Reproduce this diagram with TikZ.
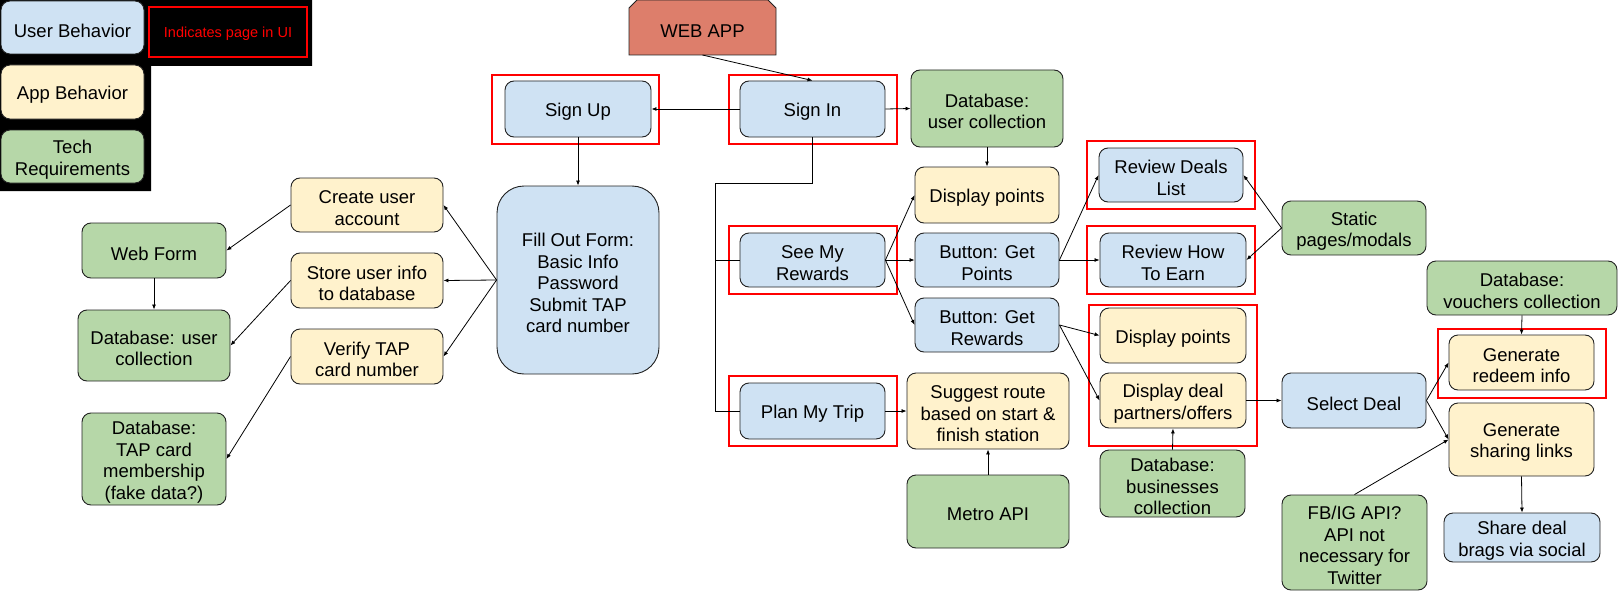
\documentclass[tikz,border=0pt]{standalone}
\usepackage{fontspec}
\setmainfont{Liberation Sans}
\usetikzlibrary{arrows.meta}
\definecolor{ubc}{HTML}{CFE2F3}
\definecolor{abc}{HTML}{FFF2CC}
\definecolor{trc}{HTML}{B6D7A8}
\definecolor{wac}{HTML}{DD7E6B}
\definecolor{bordc}{HTML}{222222}
\newcommand\bx[6]{%
  \node[#1,minimum width=#4pt,minimum height=#5pt] (#2) at (#3) {};
  \node[txt] (#2t) at ([yshift=-3pt]#2.center) {#6};}
\begin{document}
\begin{tikzpicture}[x=1pt,y=-1pt,
  base/.style={draw=bordc,line width=0.9pt,rounded corners=9pt,inner sep=0pt},
  txt/.style={align=center,inner sep=0pt,font=\fontsize{18.5}{21.5}\selectfont},
  ub/.style={base,fill=ubc},
  ab/.style={base,fill=abc},
  tr/.style={base,fill=trc},
  pagebox/.style={draw=red,line width=1.7pt},
  conn/.style={line width=0.8pt,black},
  arr/.style={conn,-{Latex[length=5pt,width=4pt]}}
]
\useasboundingbox (0,0) rectangle (1623,594);
% legend
\fill[black] (0,0) -- (312,0) -- (312,66) -- (151,66) -- (151,191) -- (0,191) -- cycle;
\bx{ub}{legUB}{72.5,27.5}{143}{53}{User Behavior}
\bx{ab}{legAB}{72.5,92}{143}{54}{App Behavior}
\bx{tr}{legTR}{72.5,156.5}{143}{53}{Tech\\Requirements}
\node[draw=red,line width=1.7pt,minimum width=158pt,minimum height=50pt,inner sep=0pt] (legRed) at (228,32) {};
\node[text=red,font=\fontsize{14.5}{17}\selectfont,inner sep=0pt] (legRedt) at ([yshift=-2pt]legRed.center) {Indicates page in UI};
% web app
\draw[draw=bordc,line width=0.9pt,fill=wac] (629,55) -- (629,8) -- (637,0) -- (768,0) -- (776,8) -- (776,55) -- cycle;
\node[txt] (webapp) at (702.5,31) {WEB APP};
\coordinate (webappS) at (702.5,55);
% main nodes
\bx{ub}{signup}{578,109}{146}{56}{Sign Up}
\bx{ub}{signin}{812.5,109}{145}{56}{Sign In}
\bx{tr}{dbuser}{987,108.5}{152}{77}{Database:\\user collection}
\bx{ab}{disp1}{987,195}{144}{56}{Display points}
\bx{ub}{seemy}{812.5,260}{145}{54}{See My\\Rewards}
\bx{ub}{getpts}{987,260}{144}{54}{Button: Get\\Points}
\bx{ub}{getrew}{987,325}{144}{54}{Button: Get\\Rewards}
\bx{ub}{revdeals}{1171,175}{144}{54}{Review Deals\\List}
\bx{ub}{revearn}{1173,260}{146}{54}{Review How\\To Earn}
\bx{ab}{disp2}{1173,335.5}{146}{55}{Display points}
\bx{ab}{dispdeal}{1173,400.5}{146}{55}{Display deal\\partners/offers}
\bx{ub}{planmy}{812.5,411}{145}{56}{Plan My Trip}
\bx{ab}{suggest}{988,411}{162}{76}{Suggest route\\based on start \&\\finish station}
\bx{tr}{metro}{988,511.5}{162}{73}{Metro API}
\bx{tr}{dbbiz}{1172.5,483.5}{145}{67}{Database:\\businesses\\collection}
\bx{tr}{static}{1354,228}{144}{54}{Static\\pages/modals}
\bx{ub}{selectdeal}{1354,400.5}{144}{55}{Select Deal}
\bx{tr}{dbvouch}{1522,288}{190}{54}{Database:\\vouchers collection}
\bx{ab}{redeem}{1521.5,362.5}{145}{55}{Generate\\redeem info}
\bx{ab}{sharing}{1521.5,439.5}{145}{73}{Generate\\sharing links}
\bx{tr}{fbig}{1354.5,542.5}{145}{95}{FB/IG API?\\API not\\necessary for\\Twitter}
\bx{ub}{share}{1522,537.5}{156}{49}{Share deal\\brags via social}
\bx{ub,rounded corners=27pt}{fillform}{578,280}{162}{188}{Fill Out Form:\\Basic Info\\Password\\Submit TAP\\card number}
\bx{ab}{create}{367,205}{152}{54}{Create user\\account}
\bx{ab}{store}{367,280.5}{152}{55}{Store user info\\to database}
\bx{ab}{verify}{367,356.5}{152}{55}{Verify TAP\\card number}
\bx{tr}{webform}{154,250.5}{144}{55}{Web Form}
\bx{tr}{dbuserL}{154,345.5}{152}{71}{Database: user\\collection}
\bx{tr}{dbtap}{154,459}{144}{92}{Database:\\TAP card\\membership\\(fake data?)}
% page boxes
\draw[pagebox] (492,75) rectangle (659,144);
\draw[pagebox] (729,75) rectangle (897,144);
\draw[pagebox] (729,226) rectangle (897,294);
\draw[pagebox] (729,376) rectangle (897,446);
\draw[pagebox] (1087,141) rectangle (1255,209);
\draw[pagebox] (1087,226) rectangle (1255,294);
\draw[pagebox] (1089,305) rectangle (1257,446);
\draw[pagebox] (1438,329) rectangle (1606,398);
% connectors
\draw[arr] (webappS) -- (signin.north);
\draw[arr] (signin.west) -- (signup.east);
\draw[arr] (signin.east) -- (dbuser.west);
\draw[arr] (signup.south) -- (fillform.north);
\coordinate (j1) at (812.5,183);
\coordinate (j2) at (715,183);
\draw[conn] (signin.south) -- (j1) -- (j2) -- (j2 |- planmy.west) -- (planmy.west);
\draw[conn] (j2 |- seemy.west) -- (seemy.west);
\draw[arr] (seemy.east) -- (disp1.west);
\draw[arr] (seemy.east) -- (getpts.west);
\draw[arr] (seemy.east) -- (getrew.west);
\draw[arr] (dbuser.south) -- (disp1.north);
\draw[arr] (getpts.east) -- (revdeals.west);
\draw[arr] (getpts.east) -- (revearn.west);
\draw[arr] (static.west) -- (revdeals.east);
\draw[arr] (static.west) -- (revearn.east);
\draw[arr] (getrew.east) -- (disp2.west);
\draw[arr] (getrew.east) -- (dispdeal.west);
\draw[arr] (dispdeal.east) -- (selectdeal.west);
\draw[arr] (dbbiz.north) -- (dispdeal.south);
\draw[arr] (planmy.east) -- (suggest.west);
\draw[arr] (metro.north) -- (suggest.south);
\draw[arr] (selectdeal.east) -- (redeem.west);
\draw[arr] (selectdeal.east) -- (sharing.west);
\draw[arr] (dbvouch.south) -- (redeem.north);
\draw[arr] (fbig.north) -- (sharing.west);
\draw[arr] (sharing.south) -- (share.north);
\draw[arr] (fillform.west) -- (create.east);
\draw[arr] (fillform.west) -- (store.east);
\draw[arr] (fillform.west) -- (verify.east);
\draw[arr] (create.west) -- (webform.east);
\draw[arr] (webform.south) -- (dbuserL.north);
\draw[arr] (store.west) -- (dbuserL.east);
\draw[arr] (verify.west) -- (dbtap.east);
\end{tikzpicture}
\end{document}
